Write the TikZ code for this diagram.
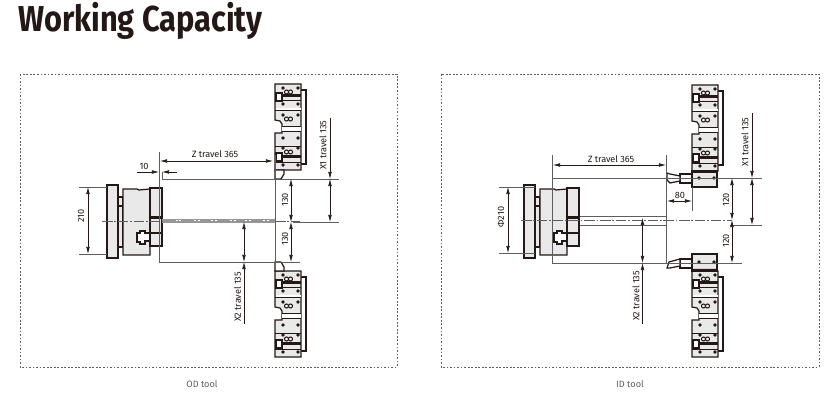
\documentclass[tikz,border=0pt]{standalone}
\usepackage{fontspec}
\setmainfont{Fira Sans}
\usetikzlibrary{arrows.meta}
\definecolor{inkdark}{HTML}{231815}
\definecolor{linegray}{HTML}{5E5E5E}
\definecolor{bodygray}{HTML}{E9E9E9}
\tikzset{
  x=0.02cm, y=-0.02cm,
  frame/.style={draw=linegray, line width=.45pt, dash pattern=on 1pt off 1pt},
  outline/.style={draw=inkdark, line width=.7pt, fill=bodygray},
  thinline/.style={draw=linegray, line width=.5pt},
  centreline/.style={draw=linegray, line width=.4pt, dash pattern=on 6pt off 1pt on 1pt off 1pt},
  dimline/.style={draw=inkdark, line width=.35pt, {Latex[length=4pt,width=2.1pt]}-{Latex[length=4pt,width=2.1pt]}},
  dimhead/.style={draw=inkdark, line width=.35pt, -{Latex[length=4pt,width=2.1pt]}},
  dimtext/.style={text=inkdark, font=\fontsize{5.2}{6}\selectfont\addfontfeature{LetterSpace=-1}, inner sep=0pt},
  vdimtext/.style={dimtext, rotate=90},
  captiontext/.style={text=linegray, font=\fontsize{5.2}{6}\selectfont, inner sep=0pt},
  block/.pic={
    % back plate
    \draw[line width=.7pt, draw=inkdark, fill=white] (26,6) -- (31,6) -- (31,80) -- (26,80);
    % body with notch
    \draw[outline] (0,0) -- (26,0) -- (26,86) -- (0,86) -- (0,49) -- (7,49) -- (7,40) -- (5,37) -- (0,36) -- cycle;
    \fill[white] (7,42) rectangle (25.5,47);
    \fill[white] (1,24) rectangle (25.5,27);
    \draw[line width=.45pt, draw=inkdark] (0,26) -- (26,26) (7,42) -- (26,42) (7,47) -- (26,47) (0,62) -- (26,62) (0,16) -- (26,16) (0,78) -- (26,78);
    % bars
    \fill[inkdark] (7,10.5) rectangle (26,13);
    \fill[inkdark] (7,71.5) rectangle (26,74);
    % holders
    \foreach \ypos in {9,69} {
      \draw[line width=.7pt, draw=inkdark, fill=white] (1,\ypos) rectangle (7,\ypos+8);
    }
    % bolts
    \foreach \ypos in {4,20,31,54,64,81} {
      \fill[inkdark] (8,\ypos) circle [radius=1.8];
      \fill[inkdark] (23,\ypos) circle [radius=1.8];
    }
    % rings
    \foreach \ypos in {8,35,68} {
      \draw[line width=.6pt, draw=inkdark, fill=white] (11.5,\ypos) circle [radius=2];
      \draw[line width=.6pt, draw=inkdark, fill=white] (15.5,\ypos) circle [radius=2];
    }
  },
  chuck/.pic={
    \draw[outline] (0,-36) rectangle (11,37);
    \draw[outline] (11,-24) rectangle (16,26);
    \draw[line width=.9pt, draw=inkdark] (11,-15) -- (16,-15) (11,26) -- (16,26);
    \draw[outline] (16,-32) -- (30,-32) -- (32,-31) -- (43,-32) -- (43,34) -- (16,34) -- cycle;
    \draw[outline] (43,-33) -- (55,-33) -- (55,25) -- (43,25) -- cycle;
    \fill[inkdark] (43,-5) rectangle (55,-2);
    \draw[line width=.7pt, draw=inkdark] (43,12) -- (55,12);
    % key
    \draw[outline, fill=white] (30,12) -- (33,12) -- (33,10) -- (38,10) -- (38,12) -- (43,12) -- (43,20) -- (38,20) -- (38,23) -- (33,23) -- (33,21) -- (30,21) -- cycle;
  }
}
\begin{document}
\begin{tikzpicture}
  \useasboundingbox (0,0) rectangle (840,404);
  \node[anchor=west, xscale=.855, inner sep=0pt, text=inkdark, font=\fontsize{20.5}{24}\selectfont\bfseries] (title) at (18,21) {Working Capacity};
  \draw[frame] (20,74) rectangle (397,367);
  \draw[frame] (441,74) rectangle (819,367);
  \node[captiontext] (odtool) at (202,384) {OD tool};
  \node[captiontext] (idtool) at (630,384) {ID tool};

  %OD tool
  \pic at (107,221) {chuck};
  \pic at (275,84) {block};
  \pic at (275,271) {block};
  \draw[outline, fill=white] (275,170) -- (284,170) -- (284,174) -- (281,179) -- (275,179) -- cycle;
  \draw[outline, fill=white] (275,262) -- (281,262) -- (284,267) -- (284,271) -- (275,271) -- cycle;
  \fill[linegray!65] (162,219) rectangle (275,223);
  \foreach \xpos in {176,179,194,198,211,215,230,234,245,249,263,267} {
    \fill[white] (\xpos,220.5) rectangle +(1.5,1);
  }
  \draw[centreline] (102,221) -- (162,221);
  \draw[centreline] (275,221) -- (300,221);
  \draw[thinline] (159,152) -- (159,262) -- (300,262);
  \draw[thinline] (162,172) -- (162,179) -- (339,179);
  \draw[thinline] (275,155) -- (275,262);
  \draw[thinline] (293,222) -- (339,222);
  \draw[thinline] (79,187) -- (107,187) (79,254) -- (107,254);
  \draw[dimhead] (137,172) -- (159,172);
  \draw[dimhead] (177,172) -- (162,172);
  \node[dimtext] (odten) at (144,166) {10};
  \draw[dimline] (160,161) -- (273,161);
  \node[dimtext] (odz) at (215,154) {Z travel 365};
  \draw[dimline] (88,187) -- (88,254);
  \node[vdimtext] (odchuck) at (81,216) {210};
  \draw[dimline] (291,179) -- (291,222);
  \draw[dimline] (291,222) -- (291,262);
  \node[vdimtext] (odup) at (285,200) {130};
  \node[vdimtext] (oddown) at (285,239) {130};
  \draw[dimhead] (330,118) -- (330,179);
  \draw[dimline] (330,179) -- (330,222);
  \node[vdimtext] (odxone) at (323,145) {X1 travel 135};
  \draw[dimline] (244,222) -- (244,262);
  \draw[dimhead] (244,324) -- (244,262);
  \node[vdimtext] (odxtwo) at (237.5,297) {X2 travel 135};

  %ID tool
  \pic at (524,221) {chuck};
  \pic at (692,85) {block};
  \pic at (692,271) {block};
  \draw[outline] (692,171) rectangle (717,187);
  \draw[outline] (692,254) rectangle (717,271);
  \fill[inkdark] (692,172) rectangle (717,173) (692,269) rectangle (717,270);
  \foreach \ypos in {178,262} {
    \fill[inkdark] (699,\ypos) circle [radius=1.8];
    \fill[inkdark] (714,\ypos) circle [radius=1.8];
  }
  \draw[outline, fill=white] (680,174) rectangle (692,183);
  \draw[outline, fill=white] (680,259) rectangle (692,268);
  \draw[outline, fill=white] (667,173) -- (670,174) -- (680,176) -- (680,181) -- (670,183) -- (667,180) -- cycle;
  \draw[outline, fill=white] (680,259) -- (669,262) -- (667,268) -- (670,268) -- (680,266) -- cycle;
  \draw[thinline] (552,155) -- (552,263) -- (742,263);
  \draw[thinline] (552,178) -- (762,178);
  \draw[thinline] (666.5,155) -- (666.5,263);
  \draw[thinline] (580,216) -- (666.5,216);
  \draw[thinline] (580,225) -- (666.5,225) (730,225) -- (762,225);
  \draw[thinline] (692,187) -- (692,211);
  \draw[centreline] (521,220) -- (732,220);
  \draw[thinline] (499,187) -- (535,187) (499,253) -- (535,253);
  \draw[dimline] (553,165) -- (666,165);
  \node[dimtext] (idz) at (611,159) {Z travel 365};
  \draw[dimline] (667,201) -- (692,201);
  \node[dimtext] (ideighty) at (680,195) {80};
  \draw[dimline] (508,187) -- (508,253);
  \node[vdimtext] (idchuck) at (501,217) {Φ210};
  \draw[dimline] (732,178) -- (732,220);
  \draw[dimline] (732,220) -- (732,263);
  \node[vdimtext] (idup) at (726,200) {120};
  \node[vdimtext] (iddown) at (726,241) {120};
  \draw[dimhead] (752,113) -- (752,178);
  \draw[dimline] (752,178) -- (752,225);
  \node[vdimtext] (idxone) at (745,142) {X1 travel 135};
  \draw[dimline] (642.5,218) -- (642.5,263);
  \draw[dimhead] (642.5,324) -- (642.5,263);
  \node[vdimtext] (idxtwo) at (636,296) {X2 travel 135};
\end{tikzpicture}
\end{document}
